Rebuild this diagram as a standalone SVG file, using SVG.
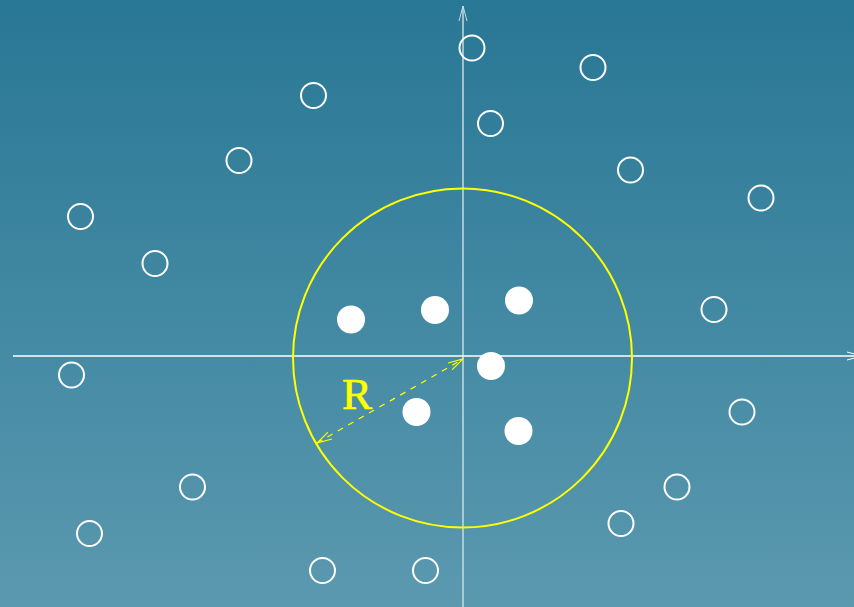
<svg xmlns="http://www.w3.org/2000/svg" width="854" height="607" viewBox="0 0 854 607">
<defs>
<linearGradient id="bg" x1="0" y1="0" x2="0" y2="1">
<stop offset="0" stop-color="#287795"/>
<stop offset="1" stop-color="#5b99af"/>
</linearGradient>
<marker id="axisHead" viewBox="0 0 16 10" refX="15" refY="5" markerWidth="16" markerHeight="10" markerUnits="userSpaceOnUse" orient="auto">
<path d="M0,1 L15,5 L0,9" fill="none" stroke="#ffffff" stroke-width="1"/>
</marker>
<marker id="axisHeadV" viewBox="0 0 16 10" refX="15" refY="5" markerWidth="16" markerHeight="10" markerUnits="userSpaceOnUse" orient="auto">
<path d="M0,1 L15,5 L0,9" fill="none" stroke="#c6dbe4" stroke-width="1"/>
</marker>
<marker id="rHead" viewBox="0 0 16 10" refX="15" refY="5" markerWidth="16" markerHeight="10" markerUnits="userSpaceOnUse" orient="auto-start-reverse">
<path d="M0,1 L15,5 L0,9" fill="none" stroke="#ffff00" stroke-width="1.2"/>
</marker>
<style>
.open{fill:none;stroke:#ffffff;stroke-width:2}
.solid{fill:#ffffff;stroke:none}
.label{font-family:"Liberation Serif","Times New Roman",serif;font-size:45px;fill:#ffff00;stroke:#ffff00;stroke-width:0.6}
</style>
</defs>
<rect x="0" y="0" width="854" height="607" fill="url(#bg)"/>
<g id="axes">
<line x1="463" y1="607" x2="463" y2="6" stroke="#c6dbe4" stroke-width="1.5" marker-end="url(#axisHeadV)"/>
<line x1="13" y1="356" x2="862" y2="356" stroke="#ffffff" stroke-width="1.5" marker-end="url(#axisHead)"/>
</g>
<g id="boundary">
<circle cx="462.5" cy="358" r="169.5" fill="none" stroke="#ffff00" stroke-width="2"/>
</g>
<g id="connectors">
<line x1="317" y1="443" x2="463" y2="359" stroke="#ffff00" stroke-width="1.2" stroke-dasharray="6,6" marker-start="url(#rHead)" marker-end="url(#rHead)"/>
</g>
<g id="label-R"><text class="label" x="342" y="409">R</text></g>
<g id="outside">
<circle id="o1" class="open" cx="472" cy="48" r="12.5"/>
<circle id="o2" class="open" cx="593" cy="67.5" r="12.5"/>
<circle id="o3" class="open" cx="313.5" cy="95.5" r="12.5"/>
<circle id="o4" class="open" cx="490.5" cy="123.5" r="12.5"/>
<circle id="o5" class="open" cx="239" cy="160.5" r="12.5"/>
<circle id="o6" class="open" cx="630.5" cy="170" r="12.5"/>
<circle id="o7" class="open" cx="761" cy="198" r="12.5"/>
<circle id="o8" class="open" cx="80.5" cy="216.5" r="12.5"/>
<circle id="o9" class="open" cx="155" cy="263.5" r="12.5"/>
<circle id="o10" class="open" cx="714" cy="309.5" r="12.5"/>
<circle id="o11" class="open" cx="71.5" cy="375" r="12.5"/>
<circle id="o12" class="open" cx="742" cy="412" r="12.5"/>
<circle id="o13" class="open" cx="192.5" cy="487" r="12.5"/>
<circle id="o14" class="open" cx="677" cy="487" r="12.5"/>
<circle id="o15" class="open" cx="89.5" cy="533.5" r="12.5"/>
<circle id="o16" class="open" cx="621" cy="523.5" r="12.5"/>
<circle id="o17" class="open" cx="322.5" cy="570.5" r="12.5"/>
<circle id="o18" class="open" cx="425.5" cy="570.5" r="12.5"/>
</g>
<g id="inside">
<circle id="i1" class="solid" cx="351" cy="319.5" r="14"/>
<circle id="i2" class="solid" cx="435" cy="310" r="14"/>
<circle id="i3" class="solid" cx="519" cy="300.5" r="14"/>
<circle id="i4" class="solid" cx="491" cy="366" r="14"/>
<circle id="i5" class="solid" cx="416.5" cy="412" r="14"/>
<circle id="i6" class="solid" cx="518.5" cy="431" r="14"/>
</g>
</svg>
